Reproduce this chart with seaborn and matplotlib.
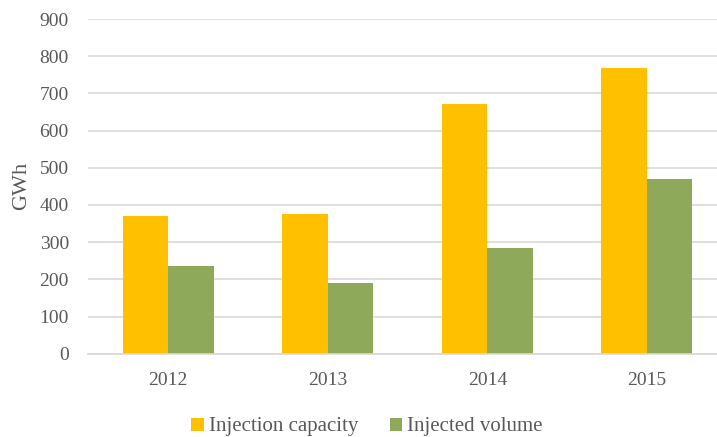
import matplotlib
matplotlib.use("Agg")
import matplotlib.pyplot as plt
import seaborn as sns
import pandas as pd
from matplotlib.patches import Patch

years = ["2012", "2013", "2014", "2015"]
injection_capacity = [371, 376, 672, 768]
injected_volume = [235, 189, 285, 469]
series_names = ["Injection capacity", "Injected volume"]
colors = ["#FFC000", "#8FA95B"]
y_ticks = [0, 100, 200, 300, 400, 500, 600, 700, 800, 900]

df = pd.DataFrame({
    "Year": years * 2,
    "GWh": injection_capacity + injected_volume,
    "Series": [series_names[0]] * len(years) + [series_names[1]] * len(years),
})

sns.set_theme(style="white")
plt.rcParams["font.family"] = ["Liberation Serif", "DejaVu Serif"]
text_color = "#595959"

fig = plt.figure(figsize=(7.17, 4.37), dpi=100)
ax = fig.add_axes([88.3 / 717, 83.3 / 437, 638.4 / 717, 334.7 / 437])

sns.barplot(data=df, x="Year", y="GWh", hue="Series", palette=colors,
            width=0.57, ax=ax, legend=False, saturation=1, errorbar=None,
            edgecolor="none", linewidth=0)

ax.set_ylim(0, 900)
ax.set_xlim(-0.5, 3.5)
ax.set_yticks(y_ticks)
ax.yaxis.grid(True, color="#d9d9d9", linewidth=1.2)
ax.set_axisbelow(True)
for s in ["top", "right", "left"]:
    ax.spines[s].set_visible(False)
ax.spines["bottom"].set_color("#d9d9d9")
ax.spines["bottom"].set_linewidth(1.2)
ax.tick_params(axis="both", length=0, labelsize=14, labelcolor=text_color)
ax.tick_params(axis="y", pad=14)
ax.tick_params(axis="x", pad=13)
ax.set_xlabel("")
ax.set_ylabel("GWh", fontsize=16, color=text_color)
ax.yaxis.set_label_coords(-57 / 638.4, 0.5)

handles = [Patch(facecolor=c, edgecolor="none") for c in colors]
fig.legend(handles, series_names, loc="center", bbox_to_anchor=(367 / 717, 1 - 427 / 437),
           ncol=2, frameon=False, fontsize=15, labelcolor=text_color,
           handlelength=0.6, handleheight=0.6, handletextpad=0.25, columnspacing=1.5)

fig.savefig("out.png", dpi=100)
